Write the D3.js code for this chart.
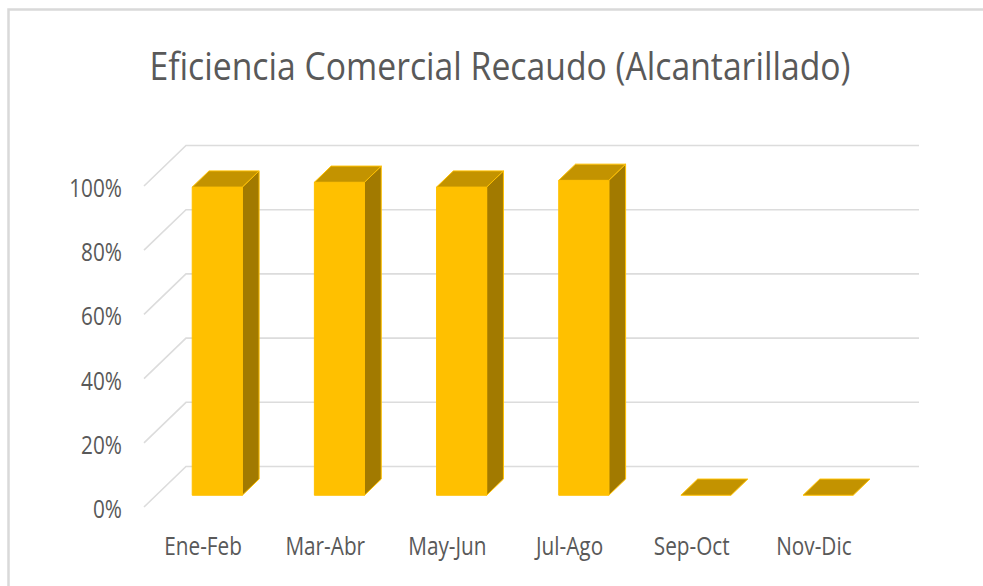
<!DOCTYPE html>
<html>
<head>
<meta charset="utf-8">
<script src="https://cdn.jsdelivr.net/npm/d3@7"></script>
<style>
  html, body { margin: 0; padding: 0; background: #fff; }
  svg { display: block; }
  text { font-family: "Open Sans", "Noto Sans", sans-serif; fill: #595959; }
</style>
</head>
<body>
<svg id="chart" width="983" height="586"></svg>
<script>
const title = "Eficiencia Comercial Recaudo (Alcantarillado)";
const categories = ["Ene-Feb", "Mar-Abr", "May-Jun", "Jul-Ago", "Sep-Oct", "Nov-Dic"];
const values = [0.96, 0.975, 0.96, 0.981, 0, 0];
const yTicks = [0, 0.2, 0.4, 0.6, 0.8, 1.0];

const svg = d3.select("#chart");

// frame
svg.append("rect").attr("x", 8.5).attr("y", 9.5).attr("width", 1000).attr("height", 600)
  .attr("fill", "#fff").attr("stroke", "#d9d9d9").attr("stroke-width", 2.5);

// 3D projection parameters
const depth = [42, -40.5];
const xFront = d3.scaleBand().domain(categories).range([144, 877]);
const yFront = d3.scaleLinear().domain([0, 1]).range([507, 186]);
const P = (x, v, d) => [x + d * depth[0], yFront(v) + d * depth[1]];

const grid = svg.append("g").attr("stroke", "#dcdcdc").attr("stroke-width", 1.6).attr("fill", "none");
const x0 = xFront.range()[0], x1 = xFront.range()[1];
yTicks.forEach(t => {
  const a = P(x0, t, 0), b = P(x0, t, 1), c = P(x1, t, 1);
  grid.append("polyline").attr("points", [a, b, c].map(p => p.join(",")).join(" "));
});

// bars
const d0 = 0.29, d1 = 0.69;
const bw = xFront.bandwidth() * 0.41;
const FRONT = "#FFC000", TOP = "#C39300", SIDE = "#A27A00";
const bars = svg.append("g").attr("stroke", "#FFC000").attr("stroke-width", 1).attr("stroke-linejoin", "round");
categories.forEach((c, i) => {
  const v = values[i];
  const xl = xFront(c) + xFront.bandwidth() / 2 - bw / 2;
  const xr = xl + bw;
  const fbl = P(xl, 0, d0), fbr = P(xr, 0, d0), ftl = P(xl, v, d0), ftr = P(xr, v, d0);
  const bbr = P(xr, 0, d1), btl = P(xl, v, d1), btr = P(xr, v, d1);
  const pts = arr => arr.map(p => p.join(",")).join(" ");
  if (v > 0) {
    bars.append("polygon").attr("points", pts([fbr, bbr, btr, ftr])).attr("fill", SIDE);
    bars.append("polygon").attr("points", pts([fbl, fbr, ftr, ftl])).attr("fill", FRONT);
  }
  bars.append("polygon").attr("points", pts([ftl, ftr, btr, btl])).attr("fill", TOP);
});

// y labels
const fmt = d3.format(".0%");
svg.append("g").selectAll("text").data(yTicks).join("text")
  .attr("x", 122).attr("y", d => yFront(d) + 1)
  .attr("text-anchor", "end").attr("dominant-baseline", "central")
  .attr("font-size", 25)
  .text(d => fmt(d));

// x labels
svg.append("g").selectAll("text").data(categories).join("text")
  .attr("x", d => xFront(d) + xFront.bandwidth() / 2 - 2).attr("y", 555)
  .attr("text-anchor", "middle")
  .attr("font-size", 25)
  .text(d => d);

// title
svg.append("text").attr("class", "title").attr("x", 500).attr("y", 80)
  .attr("text-anchor", "middle").attr("font-size", 38)
  .text(title);

// condense text horizontally to mimic the narrow original typeface
svg.selectAll("text").each(function() {
  const el = d3.select(this);
  const len = this.getComputedTextLength();
  const target = el.classed("title") ? 701 : len * 0.83;
  el.attr("textLength", target).attr("lengthAdjust", "spacingAndGlyphs");
});
</script>
</body>
</html>
